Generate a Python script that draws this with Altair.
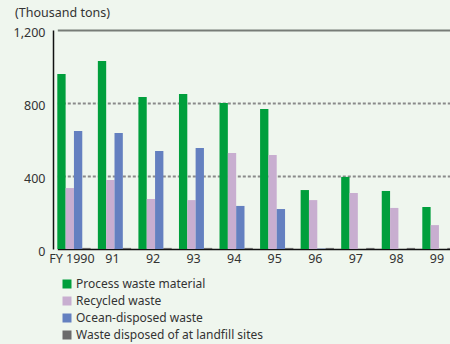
import altair as alt
import pandas as pd

years = ["FY 1990", "91", "92", "93", "94", "95", "96", "97", "98", "99"]
series = ["Process waste material", "Recycled waste", "Ocean-disposed waste",
          "Waste disposed of at landfill sites"]
process = [959, 1030, 833, 849, 800, 767, 323, 395, 318, 230]
recycled = [334, 378, 274, 268, 526, 515, 268, 307, 225, 131]
ocean = [647, 636, 537, 553, 236, 219, 2, 0, 0, 0]
landfill = [6, 6, 6, 6, 6, 6, 6, 6, 6, 6]
colors = ["#009f3c", "#c8aed0", "#6480c0", "#6b6b6b"]
y_ticks = [0, 400, 800, 1200]

rows = []
for vals, name in zip([process, recycled, ocean, landfill], series):
    for yr, v in zip(years, vals):
        rows.append({"year": yr, "series": name, "value": v})
df = pd.DataFrame(rows)

font = "Noto Sans"
W, H = 397, 219

chart = alt.Chart(df).mark_bar().encode(
    x=alt.X("year:N", sort=years, title=None,
            scale=alt.Scale(range=[4.3, 402.6], paddingInner=0.179, paddingOuter=0),
            axis=alt.Axis(labelAngle=0, ticks=False, labelPadding=3, labelOffset=-2,
                          labelFont=font, labelFontSize=12.5, labelColor="#333333",
                          domainColor="#111111", domainWidth=1.5)),
    xOffset=alt.XOffset("series:N", sort=series,
                        scale=alt.Scale(paddingInner=0, paddingOuter=0)),
    y=alt.Y("value:Q", title=None,
            scale=alt.Scale(domain=[0, 1200], nice=False),
            axis=alt.Axis(values=y_ticks, format=",d", ticks=False, labelPadding=8,
                          labelFont=font, labelFontSize=12.5, labelColor="#333333",
                          labelOffset=2,
                          domainColor="#111111", domainWidth=1.5,
                          grid=True,
                          gridColor={"condition": {"test": "datum.value == 1200", "value": "#777c77"}, "value": "#8a8a8a"},
                          gridDash={"condition": {"test": "datum.value == 1200", "value": []}, "value": [3, 2]},
                          gridWidth=2,
                          gridOpacity={"condition": {"test": "datum.value == 0", "value": 0}, "value": 1})),
    color=alt.Color("series:N", sort=series,
                    scale=alt.Scale(domain=series, range=colors),
                    legend=alt.Legend(title=None, orient="none", legendX=8, legendY=248,
                                      symbolType="square", symbolSize=81, symbolStrokeWidth=0,
                                      labelFont=font, labelFontSize=12, labelColor="#333333",
                                      labelLimit=300,
                                      labelOffset=3, rowPadding=5, padding=0)),
).properties(
    width=W, height=H,
    title=alt.TitleParams("(Thousand tons)", anchor="start", frame="group", dx=-38, offset=7,
                          font=font, fontSize=12.5, fontWeight="normal", color="#333333"),
    autosize=alt.AutoSizeParams(type="none"),
    padding={"left": 53, "top": 30, "right": 0, "bottom": 95},
    background="#eff6ee",
).configure_view(stroke=None)

chart.save("out.html", embed_options={"renderer": "svg", "actions": False})
